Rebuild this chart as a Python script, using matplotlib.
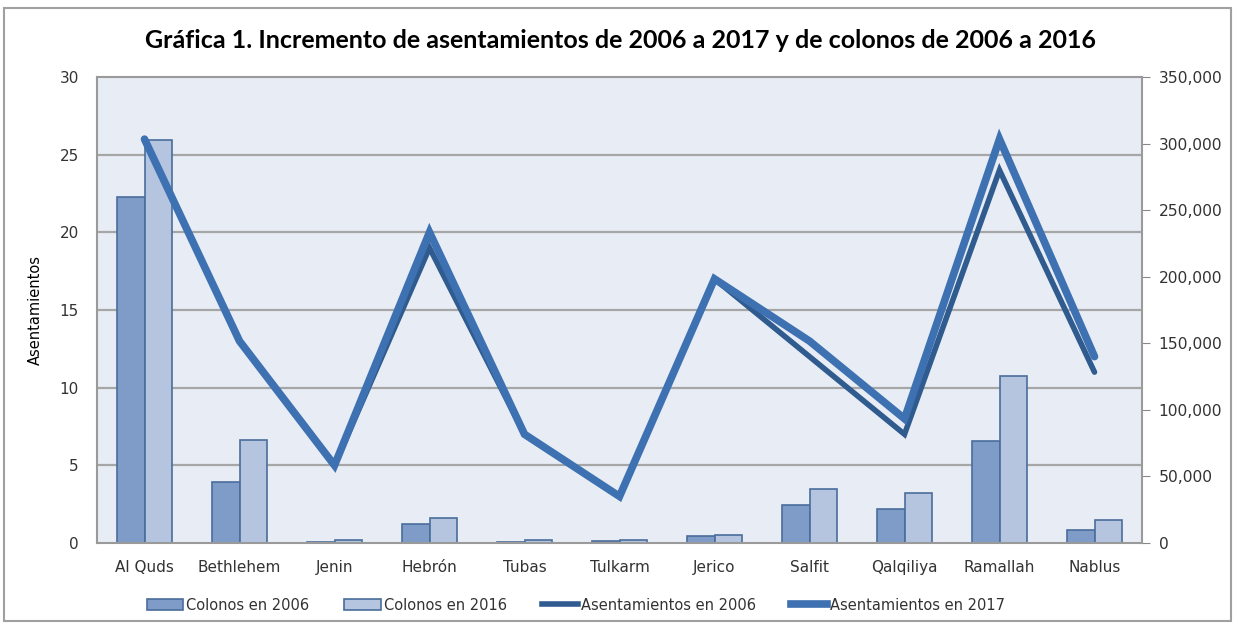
import numpy as np
import matplotlib
matplotlib.use('Agg')
import matplotlib.pyplot as plt
from matplotlib.patches import Patch, Rectangle
from matplotlib.lines import Line2D
from matplotlib.ticker import MultipleLocator, FuncFormatter

# Data
categories = ["Al Quds", "Bethlehem", "Jenin", "Hebrón", "Tubas", "Tulkarm",
              "Jerico", "Salfit", "Qalqiliya", "Ramallah", "Nablus"]
colonos_2006 = [260100, 46000, 1000, 13900, 900, 1600, 4900, 28900, 25900, 76500, 9600]
colonos_2016 = [302700, 77400, 2300, 19100, 1900, 2600, 5800, 40900, 37200, 125300, 16900]
asent_2006 = [26, 13, 5, 19, 7, 3, 17, 12, 7, 24, 11]
asent_2017 = [26, 13, 5, 20, 7, 3, 17, 13, 8, 26, 12]

c_bar06 = "#7f9cc8"
c_bar16 = "#b5c4df"
c_edge = "#4a6d9c"
c_line06 = "#2f5b8e"
c_line17 = "#3e71b1"
text_c = "#333333"

fig = plt.figure(figsize=(12.38, 6.29), dpi=100)
host = fig.add_axes([97 / 1238, 1 - 543 / 629, (1142 - 97) / 1238, (543 - 77) / 629])
ax2 = host.twinx()

# Bars (settlers) on the right-hand scale
x = np.arange(len(categories))
w = 0.29
host.bar(x - w / 2, colonos_2006, w, color=c_bar06, edgecolor=c_edge, linewidth=1.2, zorder=2)
host.bar(x + w / 2, colonos_2016, w, color=c_bar16, edgecolor=c_edge, linewidth=1.2, zorder=2)
host.set_ylim(0, 350000)
host.set_xlim(-0.5, len(categories) - 0.5)
host.set_facecolor("#e8edf5")
host.yaxis.tick_right()
host.yaxis.set_major_locator(MultipleLocator(50000))
host.yaxis.set_major_formatter(FuncFormatter(lambda v, p: f"{int(v):,}"))
# gridlines follow the left axis (every 5 settlements)
host.yaxis.set_minor_locator(MultipleLocator(350000 / 6))
host.grid(which="minor", axis="y", color="#a6a6a6", linewidth=1.6)
host.set_axisbelow(True)
host.tick_params(axis="y", which="minor", length=0)
host.tick_params(axis="y", which="major", direction="out", length=6, color="#888888",
                 labelsize=11.2, labelcolor=text_c, pad=6)
host.set_xticks(x)
host.set_xticklabels(categories)
host.tick_params(axis="x", length=0, labelsize=11, labelcolor=text_c, pad=12)
for s in host.spines.values():
    s.set_color("#9a9a9a")
    s.set_linewidth(1.5)

# Lines (settlements) on the left-hand scale
ax2.plot(x, asent_2006, color=c_line06, linewidth=4, solid_capstyle="round",
         solid_joinstyle="miter", zorder=3)
ax2.plot(x, asent_2017, color=c_line17, linewidth=5.5, solid_capstyle="round",
         solid_joinstyle="miter", zorder=4)
ax2.set_ylim(0, 30)
ax2.yaxis.tick_left()
ax2.yaxis.set_label_position("left")
ax2.yaxis.set_major_locator(MultipleLocator(5))
ax2.tick_params(axis="y", length=0, labelsize=11, labelcolor=text_c, pad=13)
ax2.set_ylabel("Asentamientos", fontsize=10.5, color="black", labelpad=12)
for s in ax2.spines.values():
    s.set_visible(False)

fig.suptitle("Gráfica 1. Incremento de asentamientos de 2006 a 2017 y de colonos de 2006 a 2016",
             x=621 / 1238, y=1 - 40 / 629, va="center", fontsize=18, fontweight="bold",
             family=["Lato", "DejaVu Sans"])

handles = [
    Patch(facecolor=c_bar06, edgecolor=c_edge, linewidth=1.2),
    Patch(facecolor=c_bar16, edgecolor=c_edge, linewidth=1.2),
    Line2D([0], [0], color=c_line06, linewidth=4),
    Line2D([0], [0], color=c_line17, linewidth=5.5),
]
labels = ["Colonos en 2006", "Colonos en 2016", "Asentamientos en 2006", "Asentamientos en 2017"]
leg = fig.legend(handles, labels, loc="center", bbox_to_anchor=(576 / 1238, 1 - 605 / 629),
                 ncol=4, frameon=False, fontsize=10.5, handlelength=2.5, handleheight=0.8,
                 handletextpad=0.2, columnspacing=2.4)
for t in leg.get_texts():
    t.set_color(text_c)

# outer chart frame
fig.patches.append(Rectangle((4 / 1238, 8 / 629), 1227 / 1238, 613 / 629,
                             transform=fig.transFigure, fill=False,
                             edgecolor="#a0a0a0", linewidth=1.5))

fig.savefig("out.png", dpi=100)
plt.close(fig)
